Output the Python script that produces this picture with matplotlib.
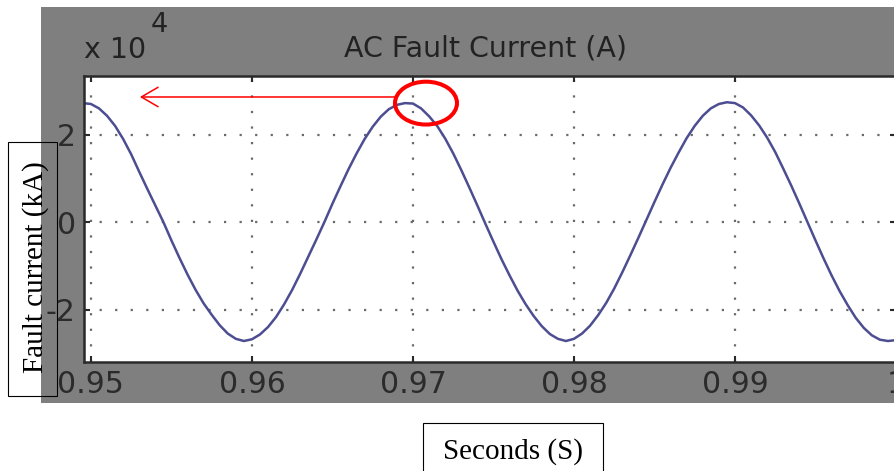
import matplotlib
matplotlib.use("Agg")
import matplotlib.pyplot as plt
from matplotlib.patches import Rectangle, Ellipse, FancyArrowPatch

# AC fault current (time in s, current in A)
time_s = [0.9495, 0.9500, 0.9505, 0.9510, 0.9515, 0.9520, 0.9525, 0.9530,
          0.9535, 0.9540, 0.9545, 0.9550, 0.9555, 0.9560, 0.9565, 0.9570,
          0.9575, 0.9580, 0.9585, 0.9590, 0.9595, 0.9600, 0.9605, 0.9610,
          0.9615, 0.9620, 0.9625, 0.9630, 0.9635, 0.9640, 0.9645, 0.9650,
          0.9655, 0.9660, 0.9665, 0.9670, 0.9675, 0.9680, 0.9685, 0.9690,
          0.9695, 0.9700, 0.9705, 0.9710, 0.9715, 0.9720, 0.9725, 0.9730,
          0.9735, 0.9740, 0.9745, 0.9750, 0.9755, 0.9760, 0.9765, 0.9770,
          0.9775, 0.9780, 0.9785, 0.9790, 0.9795, 0.9800, 0.9805, 0.9810,
          0.9815, 0.9820, 0.9825, 0.9830, 0.9835, 0.9840, 0.9845, 0.9850,
          0.9855, 0.9860, 0.9865, 0.9870, 0.9875, 0.9880, 0.9885, 0.9890,
          0.9895, 0.9900, 0.9905, 0.9910, 0.9915, 0.9920, 0.9925, 0.9930,
          0.9935, 0.9940, 0.9945, 0.9950, 0.9955, 0.9960, 0.9965, 0.9970,
          0.9975, 0.9980, 0.9985, 0.9990, 0.9995, 1.0000]
current_a = [27200, 27000, 26000, 24300, 22000, 19000, 15500, 11500,
             7600, 3800, 0, -4200, -8200, -12000, -15500, -18600,
             -21200, -23600, -25500, -26700, -27200, -26800, -25700, -24000,
             -21700, -18800, -15500, -11800, -7900, -4000, 0, 4200,
             8200, 12100, 15700, 19000, 21800, 24100, 25800, 26800,
             27200, 27100, 26000, 24200, 22000, 19100, 15700, 11900,
             7900, 3800, -400, -4500, -8500, -12200, -15700, -18800,
             -21500, -23800, -25600, -26700, -27200, -26700, -25500, -23700,
             -21300, -18500, -15200, -11500, -7600, -3600, 500, 4600,
             8600, 12400, 15900, 19200, 22000, 24300, 26000, 27000,
             27400, 27200, 26200, 24400, 22100, 19300, 16000, 12200,
             8300, 4200, 0, -4200, -8300, -12200, -15800, -19000,
             -21900, -24200, -25900, -26900, -27200, -27000]

x_ticks = [0.95, 0.96, 0.97, 0.98, 0.99, 1.00]
x_ticklabels = ["0.95", "0.96", "0.97", "0.98", "0.99", "1"]
y_ticks = [-2, 0, 2]
y_ticklabels = ["-2", "0", "2"]
scale = 1e4

W, H = 894, 471


def fx(px):
    return px / W


def fy(py):
    return 1 - py / H


fig = plt.figure(figsize=(W / 100, H / 100), dpi=100)
fig.patch.set_facecolor("white")

# grey scope window
fig.add_artist(Rectangle((fx(41), fy(403)), fx(894) - fx(41), fy(7) - fy(403),
                         transform=fig.transFigure, facecolor="#7f7f7f",
                         edgecolor="none", zorder=-1))

ax = fig.add_axes([fx(84), fy(362), fx(896) - fx(84), fy(76) - fy(362)])
ax.set_facecolor("white")
ax.plot(time_s, [c / scale for c in current_a], color="#4d4d91", lw=1.8)

ax.set_xlim(0.94957, 1.0)
ax.set_ylim(-3.2, 3.34)
ax.set_xticks(x_ticks)
ax.set_xticklabels(x_ticklabels)
ax.set_yticks(y_ticks)
ax.set_yticklabels(y_ticklabels)
ax.grid(True, color="#6a6a6a", lw=1.6, linestyle=(0, (1, 6)))
ax.tick_params(direction="in", length=4.5, width=1.5, color="#2a2a2a",
               labelsize=21.5, labelcolor="#2b2b2b", top=True, right=True)
ax.tick_params(axis="x", pad=6)
ax.tick_params(axis="y", pad=6)
for s in ax.spines.values():
    s.set_color("#2a2a2a")
    s.set_linewidth(1.8)

fig.text(fx(486), fy(57), "AC Fault Current (A)", ha="center", va="baseline",
         fontsize=20.5, color="#222222")
fig.text(fx(84), fy(58), "x 10", ha="left", va="baseline",
         fontsize=20.5, color="#222222")
fig.text(fx(151), fy(32), "4", ha="left", va="baseline",
         fontsize=19.5, color="#222222")

# red marks pointing out the peak
ax.add_patch(Ellipse((0.97081, 2.72), 0.00385, 0.98, fill=False,
                     edgecolor="red", lw=2.9, zorder=5))
ax.add_patch(FancyArrowPatch((0.96901, 2.86), (0.95304, 2.86),
                             arrowstyle="->,head_length=12,head_width=7",
                             mutation_scale=1, color="red", lw=1.1,
                             shrinkA=0, shrinkB=0, zorder=5))

# boxed axis captions
fig.add_artist(Rectangle((fx(8), fy(396)), fx(57) - fx(8), fy(142) - fy(396),
                         transform=fig.transFigure, fill=False,
                         edgecolor="black", lw=0.8, zorder=10))
fig.text(fx(36), fy(267), "Fault current (kA)", rotation=90, ha="center",
         va="center", family="Liberation Serif", fontsize=21, zorder=11)
fig.add_artist(Rectangle((fx(423), fy(480)), fx(603) - fx(423), fy(423) - fy(480),
                         transform=fig.transFigure, fill=False,
                         edgecolor="black", lw=0.8, zorder=10))
fig.text(fx(513), fy(452), "Seconds (S)", ha="center", va="center",
         family="Liberation Serif", fontsize=21, zorder=11)

fig.savefig("out.png", dpi=100)
